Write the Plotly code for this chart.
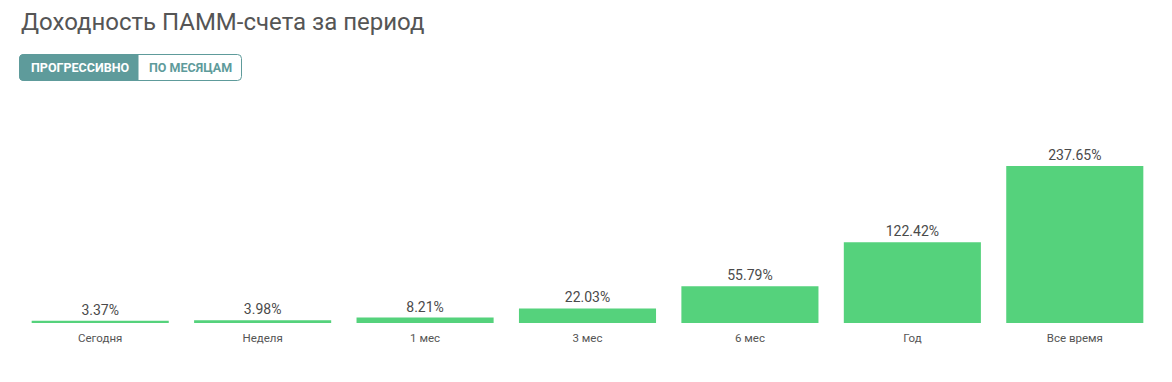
import plotly.graph_objects as go

categories = ["Сегодня", "Неделя", "1 мес", "3 мес", "6 мес", "Год", "Все время"]
values = [3.37, 3.98, 8.21, 22.03, 55.79, 122.42, 237.65]
value_labels = ["3.37%", "3.98%", "8.21%", "22.03%", "55.79%", "122.42%", "237.65%"]

W, H = 1172, 382
ML, MR, MT, MB = 19, 16, 100, 59
PW, PH = W - ML - MR, H - MT - MB

def px(x):
    return (x - ML) / PW

def py(y):
    return (H - MB - y) / PH

fig = go.Figure(go.Bar(
    x=categories, y=values, text=value_labels,
    textposition="outside", cliponaxis=False,
    textfont=dict(family="Roboto", size=14, color="#4a4a4a"),
    marker=dict(color="#55d27c", line=dict(width=0)),
    hoverinfo="skip",
))

def rounded(x0, y0, x1, y1, r, left=True, right=True):
    X0, X1 = px(x0), px(x1)
    Y0, Y1 = py(y0), py(y1)
    rx = r / PW
    ry = r / PH
    p = ""
    if left:
        p += f"M {X0+rx},{Y0} "
    else:
        p += f"M {X0},{Y0} "
    if right:
        p += f"L {X1-rx},{Y0} Q {X1},{Y0} {X1},{Y0-ry} L {X1},{Y1+ry} Q {X1},{Y1} {X1-rx},{Y1} "
    else:
        p += f"L {X1},{Y0} L {X1},{Y1} "
    if left:
        p += f"L {X0+rx},{Y1} Q {X0},{Y1} {X0},{Y1+ry} L {X0},{Y0-ry} Q {X0},{Y0} {X0+rx},{Y0} Z"
    else:
        p += f"L {X0},{Y1} Z"
    return p

teal = "#5e9b9b"
shapes = [
    dict(type="path", xref="paper", yref="paper", path=rounded(19.5, 54.5, 241.5, 80.5, 4),
         fillcolor="white", line=dict(color=teal, width=1)),
    dict(type="path", xref="paper", yref="paper", path=rounded(19.5, 54.5, 138, 80.5, 4, right=False),
         fillcolor=teal, line=dict(color=teal, width=1)),
]

annotations = [
    dict(text="Доходность ПАММ-счета за период", xref="paper", yref="paper",
         x=px(19), y=py(22), xanchor="left", yanchor="middle", showarrow=False,
         font=dict(family="Roboto", size=24, color="#555555")),
    dict(text="<b>ПРОГРЕССИВНО</b>", xref="paper", yref="paper",
         x=px(80), y=py(67.5), xanchor="center", yanchor="middle", showarrow=False,
         font=dict(family="Roboto", size=12.5, color="white")),
    dict(text="<b>ПО МЕСЯЦАМ</b>", xref="paper", yref="paper",
         x=px(190), y=py(67.5), xanchor="center", yanchor="middle", showarrow=False,
         font=dict(family="Roboto", size=12.5, color=teal)),
]

fig.update_layout(
    width=W, height=H,
    margin=dict(l=ML, r=MR, t=MT, b=MB),
    paper_bgcolor="white", plot_bgcolor="white",
    bargap=0.156,
    showlegend=False,
    shapes=shapes,
    annotations=annotations,
    xaxis=dict(showgrid=False, showline=False, zeroline=False, ticks="outside",
               ticklen=4, tickcolor="rgba(0,0,0,0)",
               tickfont=dict(family="Roboto", size=11.5, color="#555555"), fixedrange=True),
    yaxis=dict(range=[0, 337.6], visible=False, showgrid=False, zeroline=False, fixedrange=True),
)

fig.write_html("out.html", config={"displayModeBar": False})
